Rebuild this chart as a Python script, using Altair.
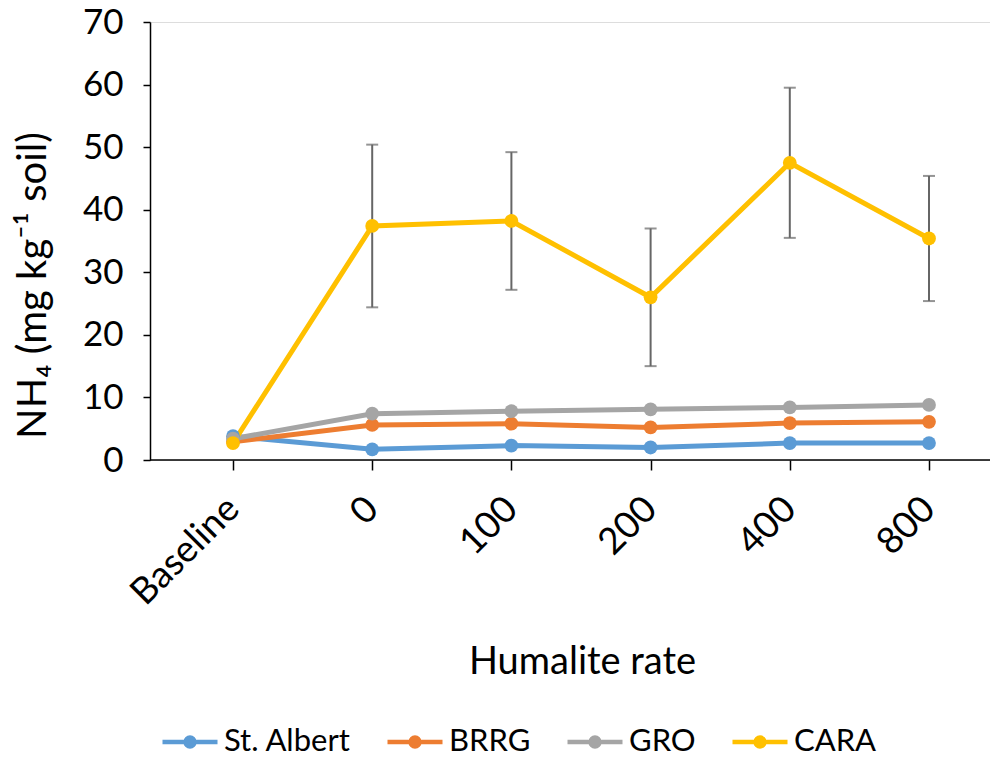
import altair as alt
import pandas as pd

categories = ["Baseline", "0", "100", "200", "400", "800"]
series_names = ["St. Albert", "BRRG", "GRO", "CARA"]
st_albert = [3.8, 1.7, 2.3, 2.0, 2.7, 2.7]
brrg = [2.9, 5.6, 5.8, 5.2, 5.9, 6.1]
gro = [3.4, 7.4, 7.8, 8.1, 8.4, 8.8]
cara = [2.7, 37.4, 38.2, 26.0, 47.5, 35.4]
cara_err = [0.0, 13.0, 11.0, 11.0, 12.0, 10.0]
colors = ["#5B9BD5", "#ED7D31", "#A5A5A5", "#FFC000"]

rows = []
for name, vals in zip(series_names, [st_albert, brrg, gro, cara]):
    for c, v in zip(categories, vals):
        rows.append({"rate": c, "series": name, "value": v})
df = pd.DataFrame(rows)

err_rows = []
for c, v, e in zip(categories, cara, cara_err):
    if e > 0:
        err_rows.append({"rate": c, "lo": v - e, "hi": v + e})
err_df = pd.DataFrame(err_rows)

FONT = "Lato"
PAD_TOP = 14
PLOT_H = 438

xscale = alt.Scale(type="point", domain=categories, range=[83, 779], padding=0)
yscale = alt.Scale(domain=[0, 70])
cscale = alt.Scale(domain=series_names, range=colors)

x_axis = alt.Axis(
    title="Humalite rate", labelAngle=-45, labelAlign="right", labelBaseline="middle",
    labelPadding=33, tickSize=10, domain=False, ticks=True, tickColor="#000000",
    tickWidth=1.5, labelFontSize=37, labelFont=FONT, labelColor="#000000",
    titleFontSize=38, titleFont=FONT, titleFontWeight="normal", titleColor="#000000",
    titleX=432, titleY=213, titleAlign="center", titleBaseline="alphabetic",
    grid=False,
)
y_axis = alt.Axis(
    title="NH₄ (mg kg⁻¹ soil)", values=[0, 10, 20, 30, 40, 50, 60, 70],
    tickSize=7, labelPadding=20, domainColor="#000000", domainWidth=1.5,
    tickColor="#000000", tickWidth=1.5, labelFontSize=35, labelFont=FONT,
    labelColor="#000000", titleFontSize=40, titleFont=FONT, titleFontWeight="normal",
    titleColor="#000000", titleAngle=-90, titleX=-117, titleY=263,
    titleAlign="center", titleBaseline="middle", grid=False,
)

legend_path = "M-1,0L1,0M-0.16,0A0.16,0.16 0 1,1 0.16,0A0.16,0.16 0 1,1 -0.16,0Z"

base = alt.Chart(df)

lines = base.mark_line(strokeWidth=5).encode(
    x=alt.X("rate:N", scale=xscale, axis=x_axis, sort=categories),
    y=alt.Y("value:Q", scale=yscale, axis=y_axis),
    color=alt.Color(
        "series:N", scale=cscale, sort=series_names,
        legend=alt.Legend(
            title=None, orient="none", direction="horizontal", legendX=10, legendY=690,
            symbolType=legend_path, symbolSize=3025, symbolStrokeWidth=4.5,
            labelFontSize=31, labelFont=FONT, labelColor="#000000", labelOffset=4,
            columnPadding=27, padding=0,
        ),
    ),
    detail="series:N",
)

points = base.mark_circle(size=190, opacity=1).encode(
    x=alt.X("rate:N", scale=xscale, sort=categories),
    y=alt.Y("value:Q", scale=yscale),
    color=alt.Color("series:N", scale=cscale, sort=series_names),
)

err_bars = alt.Chart(err_df).mark_rule(color="#666666", strokeWidth=2).encode(
    x=alt.X("rate:N", scale=xscale, sort=categories),
    y=alt.Y("lo:Q", scale=yscale),
    y2="hi:Q",
)
cap_lo = alt.Chart(err_df).mark_tick(color="#666666", thickness=2, size=12).encode(
    x=alt.X("rate:N", scale=xscale, sort=categories),
    y=alt.Y("lo:Q", scale=yscale),
)
cap_hi = alt.Chart(err_df).mark_tick(color="#666666", thickness=2, size=12).encode(
    x=alt.X("rate:N", scale=xscale, sort=categories),
    y=alt.Y("hi:Q", scale=yscale),
)

x_domain_line = alt.Chart(pd.DataFrame({"v": [0]})).mark_rule(
    color="#000000", strokeWidth=1.5
).encode(
    x=alt.value(0), x2=alt.value(840), y=alt.Y("v:Q", scale=yscale)
)

chart = alt.layer(
    x_domain_line, lines, err_bars, cap_lo, cap_hi, points
).properties(
    width=840, height=PLOT_H,
    autosize=alt.AutoSizeParams(type="none"),
    padding={"left": 142, "top": PAD_TOP, "right": 0, "bottom": 750 - PAD_TOP - PLOT_H},
).configure_view(stroke=None).configure(background="white")

chart.save("out.html", embed_options={"renderer": "svg", "actions": False})
